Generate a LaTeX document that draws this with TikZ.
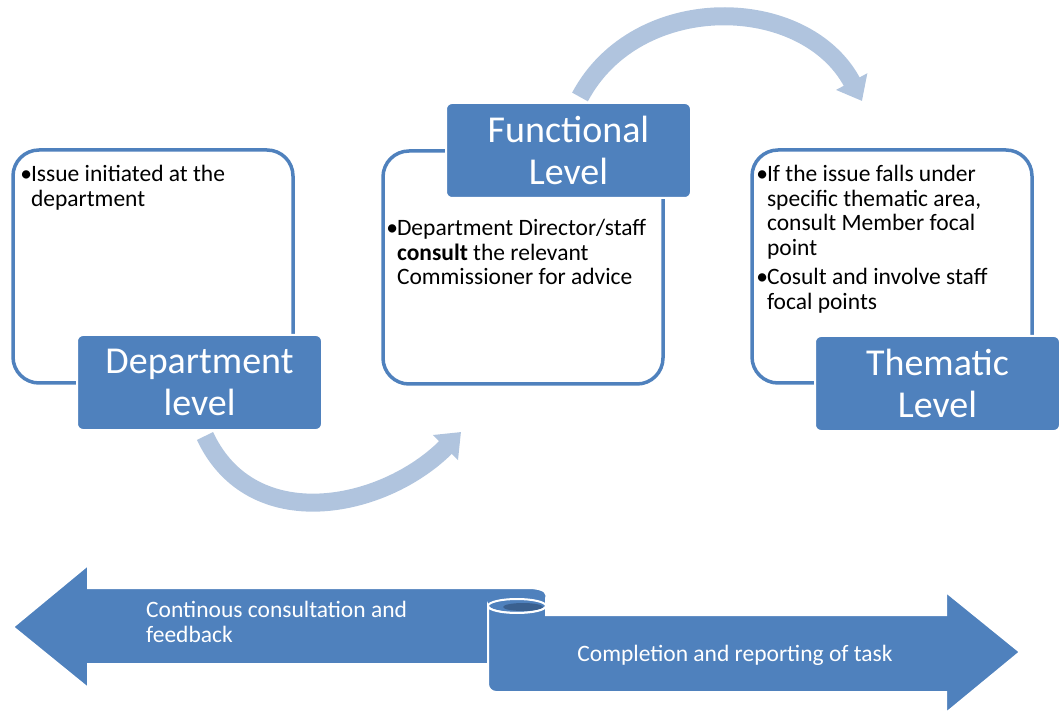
\documentclass[tikz,border=0pt]{standalone}
\usepackage{fontspec}
\setmainfont{Carlito}
\usetikzlibrary{positioning,arrows.meta}
\definecolor{lvlblue}{RGB}{79,129,189}
\definecolor{flowblue}{RGB}{176,196,222}
\definecolor{curlblue}{RGB}{58,96,143}
\tikzset{
  outline/.style={draw=lvlblue, line width=3.5pt, rounded corners=26pt, fill=white, minimum width=280pt, minimum height=233pt},
  lvl/.style={draw=white, line width=2pt, fill=lvlblue, rounded corners=6pt, text=white, minimum width=245pt, minimum height=95pt, align=center, font=\fontsize{38}{42}\selectfont},
  note/.style={anchor=north west, inner sep=0pt, align=left, font=\fontsize{23.5}{24.5}\selectfont},
  flow/.style={draw=flowblue, line width=18pt, -{Triangle[length=22pt, width=34pt]}},
  band/.style={fill=lvlblue, draw=white, line width=2pt},
  bandtext/.style={text=white, inner sep=0pt, align=left, font=\fontsize{23.5}{25}\selectfont}
}
\newcommand{\bul}{\makebox[0.45em][l]{\textbullet}}
\newcommand{\ind}{\hspace*{0.45em}}
\begin{document}
\begin{tikzpicture}[x=1pt, y=1pt]
    \useasboundingbox (0,0) rectangle (1060,713);
    % curved arrows between the levels
    \coordinate (dfrom) at (205,277);
    \coordinate (fto) at (461,281);
    \coordinate (ffrom) at (580,616);
    \coordinate (tto) at (862,612);
    \draw[flow] (dfrom) to[out=-65, in=-135, looseness=1.1] (fto);
    \draw[flow] (ffrom) to[out=62, in=118, looseness=1.1] (tto);
    % outline boxes
    \node[outline] (dbox) at (153,446.5) {};
    \node[outline] (fbox) at (523,445.5) {};
    \node[outline] (tbox) at (892,446.5) {};
    % level labels
    \node[lvl] (dlabel) at (199.5,330.5) {Department\\level};
    \node[lvl] (flabel) at (568.5,562.5) {Functional\\Level};
    \node[lvl] (tlabel) at (937.5,329.5) {Thematic\\Level};
    % notes
    \path (dbox.north west) ++(9,-17) node[note] (dtext) {\bul Issue initiated  at the\\\ind department};
    \path (fbox.west |- flabel.south) ++(5,-20) node[note] (ftext) {\bul Department Director/staff\\\ind \textbf{consult} the relevant\\\ind Commissioner  for advice};
    \path (tbox.north west) ++(6,-17) node[note] (ttext) {\bul If the issue  falls under\\\ind specific thematic area,\\\ind consult Member focal\\\ind point\\[5pt]\bul Cosult and involve staff\\\ind focal points};
    % bottom arrows
    \fill[band] (13,86) -- (88,148) -- (88,125) -- (528,125) .. controls (546,125) and (548,119) .. (546,114) -- (546,49) -- (88,49) -- (88,25) -- cycle;
    \filldraw[fill=lvlblue, draw=white, line width=2pt] (517,107) ellipse[x radius=29pt, y radius=7pt];
    \fill[curlblue] (523,106) ellipse[x radius=20pt, y radius=4pt];
    \fill[band] (488,107) [rounded corners=8pt] -- (488,21) [sharp corners] -- (946,21) -- (946,0) -- (1020,61) -- (946,121) -- (946,98) -- (546,98) -- (546,107) arc[start angle=0, end angle=-180, x radius=29pt, y radius=7pt] -- cycle;
    \node[bandtext, anchor=west] (backtxt) at (146,91) {Continous consultation and\\feedback};
    \node[bandtext] (donetxt) at (735,58) {Completion and reporting of task};
\end{tikzpicture}
\end{document}
